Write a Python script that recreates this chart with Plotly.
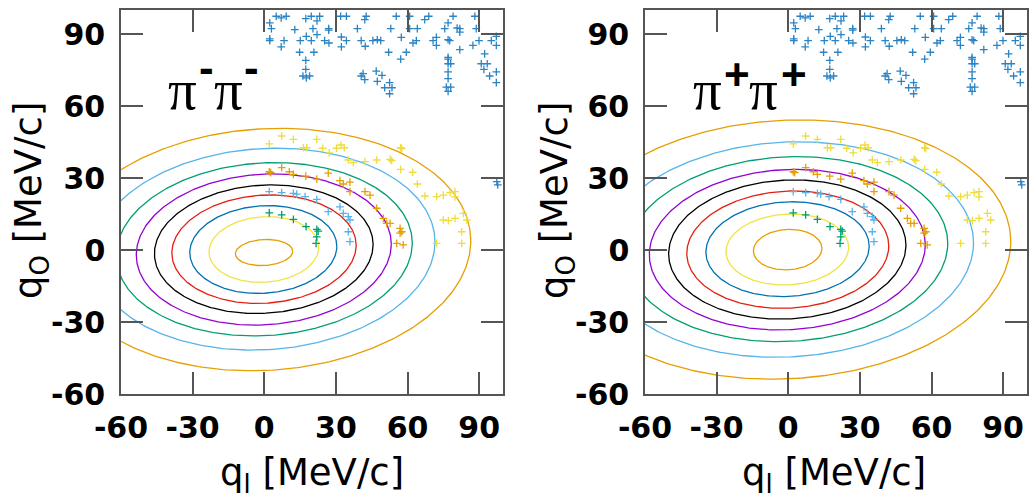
import numpy as np
import plotly.graph_objects as go

# ---------------- data (shared by both panels) ----------------
blue_x = [5.0, 7.1, 9.2, 2.3, 3.0, 2.3, 2.3, 8.3, 7.1, 14.8, 20.8, 17.4, 19.7, 23.2, 22.1, 12.8, 20.4, 27.0, 27.0, 22.1,
          17.6, 15.1, 19.7, 25.3, 27.1, 32.0, 34.4, 42.7, 42.1, 39.0, 32.3, 34.4, 32.3, 40.6, 45.5, 47.35, 48.8, 42.3,
          55.3, 60.9, 67.2, 68.9, 79.1, 88.2, 53.0, 60.9, 64.1, 77.0, 75.6, 81.9, 81.9, 80.8, 88.8, 57.4, 62.3, 63.7,
          70.7, 72.1, 72.1, 77.0, 77.7, 81.9, 87.4, 89.95, 95.1, 97.2, 97.2, 92.3, 52.1, 59.5, 77.0,
          17.4, 17.4, 16.2, 17.6, 19.0, 41.4, 40.6, 42.1, 46.9, 47.35, 49.3,
          57.15, 52.5, 50.45, 53.5, 52.5, 77.0, 77.0, 78.1, 77.0, 77.0, 76.25, 78.1, 77.0, 90.9, 93.4, 92.0, 94.4,
          97.2, 97.2, 97.4, 97.8]
blue_y = [97.4, 96.7, 97.4, 94.6, 92.2, 88.0, 87.2, 87.2, 84.6, 82.4, 82.4, 96.4, 97.4, 97.4, 95.5, 91.8, 92.2, 92.2, 91.6, 89.7,
          89.0, 87.2, 87.2, 87.2, 86.25, 97.4, 97.4, 97.4, 96.0, 92.2, 88.75, 87.2, 84.6, 87.2, 87.2, 87.6, 87.2, 84.9,
          97.4, 97.4, 96.0, 97.4, 97.4, 97.4, 92.2, 92.2, 92.2, 94.6, 92.2, 92.2, 90.8, 92.5, 92.2, 88.6, 86.25, 87.2,
          87.2, 88.6, 85.3, 87.6, 87.2, 83.5, 85.3, 87.2, 87.2, 89.0, 85.3, 81.7, 82.4, 82.4, 80.3,
          79.0, 75.3, 72.5, 71.7, 72.5, 73.5, 72.5, 71.0, 74.5, 70.3, 72.8,
          79.5, 69.7, 67.6, 67.6, 65.1, 79.5, 77.6, 77.6, 74.2, 71.4, 67.9, 67.9, 66.1, 77.6, 77.6, 75.3, 72.5,
          74.2, 69.7, 28.5, 27.1]

yellow_x = [2.1, 7.3, 12.2, 16.4, 17.8, 22.0, 24.5, 27.2, 30.3, 32.1, 33.5, 35.2, 37.3, 42.2, 47.1, 57.15, 57.6,
            52.7, 53.4, 57.15, 62.2, 64.1, 67.3, 72.2, 75.0, 77.8, 79.9, 79.9, 83.4, 75.0, 77.1, 79.9, 84.8, 82.7,
            72.2, 82.7]
yellow_y = [44.2, 47.5, 46.1, 42.6, 42.6, 46.1, 42.4, 40.5, 42.4, 43.75, 42.6, 37.5, 36.4, 36.8, 37.5, 42.6, 42.2,
            37.8, 37.2, 33.6, 32.4, 27.5, 22.5, 22.2, 22.9, 23.9, 24.3, 22.1, 15.3, 12.5, 12.2, 13.2, 12.5, 7.6,
            2.8, 2.8]

orange_x = [2.1, 2.7, 7.3, 10.5, 12.2, 17.4, 22.0, 26.8, 31.7, 33.1, 35.9, 35.9, 42.2, 44.3, 47.1, 49.9, 51.3,
            52.7, 56.9, 57.6, 56.9, 55.5, 58.2]
orange_y = [32.6, 32.2, 34.3, 32.6, 31.5, 30.8, 29.5, 32.0, 28.9, 27.5, 28.3, 24.3, 24.3, 22.9, 17.4, 13.2, 11.1,
            11.1, 9.0, 7.6, 7.0, 2.8, 2.1]

lblue_x = [2.1, 7.3, 12.2, 13.6, 17.1, 22.0, 26.8, 31.7, 33.1, 35.2, 35.9, 35.2, 35.9]
lblue_y = [24.3, 23.9, 23.6, 23.3, 22.2, 21.1, 16.0, 18.0, 15.3, 13.9, 12.5, 7.6, 3.5]

green_x = [2.1, 7.3, 12.2, 17.5, 22.0, 22.6, 22.0, 21.7]
green_y = [15.5, 14.6, 12.8, 9.7, 8.6, 7.9, 5.5, 2.8]

# contour ellipses, inner -> outer
contour_colors = ["#E69F00", "#F0E442", "#0072B2", "#E51E10", "#000000",
                  "#9400D3", "#009E73", "#56B4E9", "#E69F00"]
# pi- pi- panel
left_halfwidth = [12.0, 23.0, 30.8, 38.6, 45.8, 53.4, 62.0, 71.5, 86.0]
left_halfheight = [5.45, 13.7, 18.3, 22.6, 26.8, 31.5, 36.1, 42.05, 50.5]
left_cx = [-0.1, -0.15, -0.4, -0.1, -0.2, -0.2, 0.0, 0.0, 0.5]
left_cy = [-1.05, 0.2, 0.2, 0.35, 0.35, 0.2, 0.3, 0.35, 0.2]
left_tilt = 0.042
# pi+ pi+ panel
right_halfwidth = [14.35, 25.7, 34.2, 42.3, 49.7, 57.8, 67.2, 78.0, 94.0]
right_halfheight = [8.45, 14.8, 19.75, 24.45, 29.0, 33.45, 38.55, 44.9, 54.0]
right_cx = [-0.25, -0.4, -0.3, -0.2, -0.4, -0.4, -0.4, -0.4, -0.8]
right_cy = [0.15, 0.2, 0.35, 0.15, 0.2, 0.15, 0.35, 0.2, 0.2]
right_tilt = 0.036

tick_vals = [-60, -30, 0, 30, 60, 90]
tick_text = ["-60", "-30", "0", "30", "60", "90"]

W, H = 1036, 500
fig = go.Figure()

panels = [
    dict(xa="x", ya="y", a=left_halfwidth, h=left_halfheight, cx=left_cx, cy=left_cy, k=left_tilt),
    dict(xa="x2", ya="y2", a=right_halfwidth, h=right_halfheight, cx=right_cx, cy=right_cy, k=right_tilt),
]

t = np.linspace(0, 2 * np.pi, 361)
for p in panels:
    for col, a, hh, cx, cy in zip(contour_colors, p["a"], p["h"], p["cx"], p["cy"]):
        b = np.sqrt(max(hh ** 2 - (p["k"] * a) ** 2, 1e-6))
        ex = cx + a * np.cos(t)
        ey = cy + p["k"] * a * np.cos(t) + b * np.sin(t)
        fig.add_trace(go.Scatter(x=ex, y=ey, mode="lines", xaxis=p["xa"], yaxis=p["ya"],
                                 line=dict(color=col, width=1.3), hoverinfo="skip", showlegend=False))
    for xs, ys, col in [(blue_x, blue_y, "#2a84c4"), (yellow_x, yellow_y, "#EEDD3A"),
                        (orange_x, orange_y, "#E69F00"), (lblue_x, lblue_y, "#56B4E9"),
                        (green_x, green_y, "#009E73")]:
        fig.add_trace(go.Scatter(x=xs, y=ys, mode="markers", xaxis=p["xa"], yaxis=p["ya"],
                                 marker=dict(symbol="cross-thin", size=5.5, line=dict(color=col, width=1.3)),
                                 showlegend=False))

axis_common = dict(range=[-60, 100], tickvals=tick_vals, ticktext=tick_text, ticks="inside", ticklen=22,
                   tickwidth=1.5, tickcolor="#555555", showline=True, linecolor="#555555", linewidth=1.5,
                   mirror="allticks", showgrid=False, zeroline=False, automargin=False,
                   tickfont=dict(family="DejaVu Sans", size=30, color="black", weight="bold"))

ydom = [1 - 394 / H, 1 - 10 / H]
fig.update_layout(
    width=W, height=H, margin=dict(l=0, r=0, t=0, b=0),
    paper_bgcolor="white", plot_bgcolor="white", showlegend=False,
    xaxis=dict(domain=[121 / W, 503 / W], anchor="y", ticklabelstandoff=6, **axis_common),
    yaxis=dict(domain=ydom, anchor="x", ticklabelstandoff=8, **axis_common),
    xaxis2=dict(domain=[645 / W, 1027 / W], anchor="y2", ticklabelstandoff=6, **axis_common),
    yaxis2=dict(domain=ydom, anchor="x2", ticklabelstandoff=8, **axis_common),
)


def ann(text, px, py, size, family, angle=0, bold=False):
    fig.add_annotation(text=text, x=px / W, y=1 - py / H, xref="paper", yref="paper",
                       xanchor="center", yanchor="middle", showarrow=False, textangle=angle,
                       font=dict(family=family, size=size, color="black", weight="bold" if bold else "normal"))


# axis titles
for cx_title, cy_title in [(31, 201), (557, 201)]:
    ann("q<sub>O</sub> [MeV/c]", cx_title, cy_title, 37, "DejaVu Sans", angle=-90)
for cx_title in [312, 834]:
    ann("q<sub>l</sub> [MeV/c]", cx_title, 475, 37, "DejaVu Sans")

# panel labels
ann("π", 182.5, 90, 57, "Liberation Serif")
ann("π", 228, 90, 57, "Liberation Serif")
ann("-", 206, 67.5, 44, "Liberation Sans", bold=True)
ann("-", 251.5, 67.5, 44, "Liberation Sans", bold=True)

ann("π", 707, 90, 57, "Liberation Serif")
ann("π", 763.5, 90, 57, "Liberation Serif")
ann("+", 736.5, 74, 44, "Liberation Sans", bold=True)
ann("+", 793.5, 74, 44, "Liberation Sans", bold=True)

fig.write_html("out.html")
